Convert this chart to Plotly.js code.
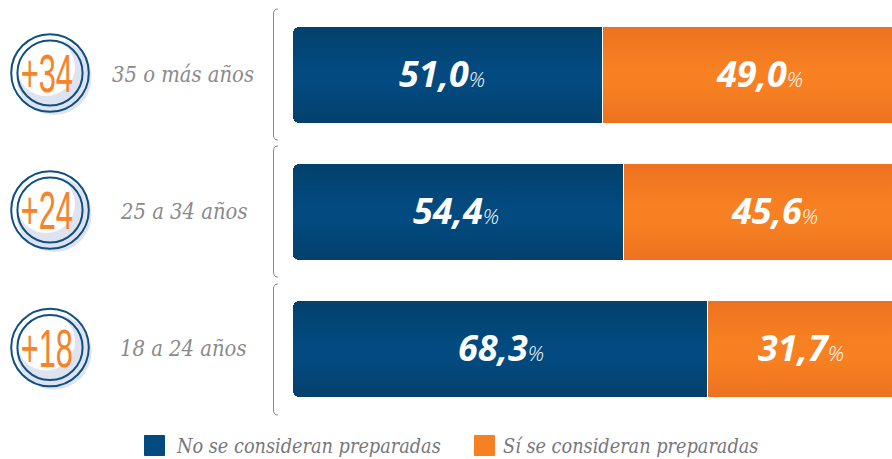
<!DOCTYPE html>
<html><head><meta charset="utf-8">
<script src="https://cdn.plot.ly/plotly-3.0.1.min.js"></script>
<style>html,body{margin:0;padding:0;background:#fff;overflow:hidden}#c{width:892px;height:459px}</style>
</head><body><div id="c"></div>
<script>
const categories = ['35 o más años','25 a 34 años','18 a 24 años'];
const badges = ['+34','+24','+18'];
const noPreparadas = [51.0,54.4,68.3];
const siPreparadas = [49.0,45.6,31.7];
const seriesNames = ['No se consideran preparadas','Sí se consideran preparadas'];
const NAVY='#024a80', ORANGE='#f78122', GREY='#8a8a8c', RING='#0f5082';

const fmt = v => v.toFixed(1).replace('.',',');
const rowY = [75,212,349];
const iconY = [73,210,347.5];
const noLabelX = [442,456,501];
const siLabelX = [759,774,801];

const shapes=[], annotations=[];
const px = (o)=>Object.assign({xref:'x2',yref:'y2'},o);
const circ=(cx,cy,r,o)=>px(Object.assign({type:'circle',x0:cx-r,x1:cx+r,y0:cy-r,y1:cy+r},o));
iconY.forEach(cy=>{
  shapes.push(circ(54,cy+4.5,37.5,{fillcolor:'#dfe3ef',line:{width:0}}));
  shapes.push(circ(46,cy-6,29,{fillcolor:'#ffffff',line:{width:0}}));
  shapes.push(circ(50,cy,38.8,{line:{color:RING,width:2}}));
  shapes.push(circ(50,cy,32.6,{line:{color:RING,width:2}}));
});
[[9,140],[146,277],[284,415]].forEach(([a,b])=>{
  shapes.push(px({type:'path',path:`M278,${a} Q273.5,${a} 273.5,${a+5} L273.5,${b-5} Q273.5,${b} 278,${b}`,line:{color:'#85878a',width:1}}));
});
shapes.push(px({type:'rect',x0:144.5,x1:164.5,y0:435.5,y1:455.5,fillcolor:NAVY,line:{color:NAVY,width:1}}));
shapes.push(px({type:'rect',x0:474.5,x1:494.5,y0:435.5,y1:455.5,fillcolor:ORANGE,line:{color:ORANGE,width:1}}));

const ann=(x,y,text,font,anchor)=>annotations.push({xref:'x2',yref:'y2',x,y,text,showarrow:false,xanchor:anchor||'center',yanchor:'middle',font});
const lab={family:'DejaVu Serif Condensed, DejaVu Serif, serif',size:21.8,color:GREY};
categories.forEach((c,i)=>{
  ann(183,rowY[i]-1,'<i>'+c+'</i>',lab);
  ann(46.5,iconY[i],badges[i],{family:'Liberation Sans Narrow, sans-serif',size:54,color:'#f7822a'});
  const val=(v)=>'<b><i>'+fmt(v)+'</i></b><span style="font-size:21px;font-weight:300"><i>%</i></span>';
  const vf={family:'Open Sans, sans-serif',size:36,color:'#ffffff'};
  ann(noLabelX[i],rowY[i]-2,val(noPreparadas[i]),vf);
  ann(siLabelX[i],rowY[i]-2,val(siPreparadas[i]),vf);
});
const lf={family:'DejaVu Serif Condensed, DejaVu Serif, serif',size:19.7,color:'#77787b'};
ann(174,446,'<i>'+seriesNames[0]+'</i>',lf,'left');
ann(501,446,'<i>'+seriesNames[1]+'</i>',lf,'left');

const bar=(x,name,color)=>({type:'bar',orientation:'h',y:categories,x,name,marker:{color,line:{width:0}},hoverinfo:'x+name'});
const data=[bar(noPreparadas,seriesNames[0],NAVY),bar(siPreparadas,seriesNames[1],ORANGE),
 {type:'scatter',x:[],y:[],xaxis:'x2',yaxis:'y2',showlegend:false,hoverinfo:'skip'}];
const layout={width:892,height:459,margin:{l:0,r:0,t:0,b:0},paper_bgcolor:'#fff',plot_bgcolor:'rgba(0,0,0,0)',showlegend:false,
 barmode:'stack',bargap:41/137,
 xaxis:{domain:[292.5/892,1],range:[0,599.5/6.07],visible:false,fixedrange:true,anchor:'y'},
 yaxis:{domain:[41.5/459,452.5/459],range:[2.5,-0.5],visible:false,type:'category',fixedrange:true,anchor:'x'},
 xaxis2:{domain:[0,1],range:[0,892],visible:false,anchor:'y2',fixedrange:true},
 yaxis2:{domain:[0,1],range:[459,0],visible:false,anchor:'x2',fixedrange:true},
 shapes,annotations};
Plotly.newPlot('c',data,layout,{displayModeBar:false,staticPlot:true}).then(gd=>{
  const svg=gd.querySelector('.main-svg'), NS='http://www.w3.org/2000/svg';
  const defs=svg.querySelector('defs')||svg.insertBefore(document.createElementNS(NS,'defs'),svg.firstChild);
  const grad=(id,edge,mid)=>{const g=document.createElementNS(NS,'linearGradient');g.id=id;g.setAttribute('x1','0');g.setAttribute('x2','0');g.setAttribute('y1','0');g.setAttribute('y2','1');
    [[0,edge],[.45,mid],[.6,mid],[1,edge]].forEach(([o,c])=>{const s=document.createElementNS(NS,'stop');s.setAttribute('offset',o);s.setAttribute('stop-color',c);g.appendChild(s);});defs.appendChild(g);};
  grad('gNo','#03416c','#024a80');grad('gSi','#ed7220','#f78122');
  gd.querySelectorAll('.barlayer .trace').forEach((t,i)=>{
    t.querySelectorAll('path').forEach(p=>{
      p.style.fill=`url(#${i?'gSi':'gNo'})`;
      const b=p.getBBox(),x=b.x,y=b.y,w=b.width,h=b.height;
      if(i===0){const r=7;
        p.setAttribute('d',`M${x+r},${y}H${x+w}V${y+h}H${x+r}A${r},${r} 0 0 1 ${x},${y+h-r}V${y+r}A${r},${r} 0 0 1 ${x+r},${y}Z`);
      } else {
        p.setAttribute('d',`M${x+1},${y}H${x+w}V${y+h}H${x+1}Z`);
      }
    });
  });
  gd.querySelectorAll('.annotation-text').forEach(t=>{
    if(badges.includes(t.textContent)){
      const b=t.getBBox(),cx=b.x+b.width/2,cy=b.y+b.height/2,prev=t.getAttribute('transform')||'';
      t.setAttribute('transform',`translate(${cx},${cy}) scale(0.57,1) translate(${-cx},${-cy}) ${prev}`);
    }
  });
});
</script></body></html>
